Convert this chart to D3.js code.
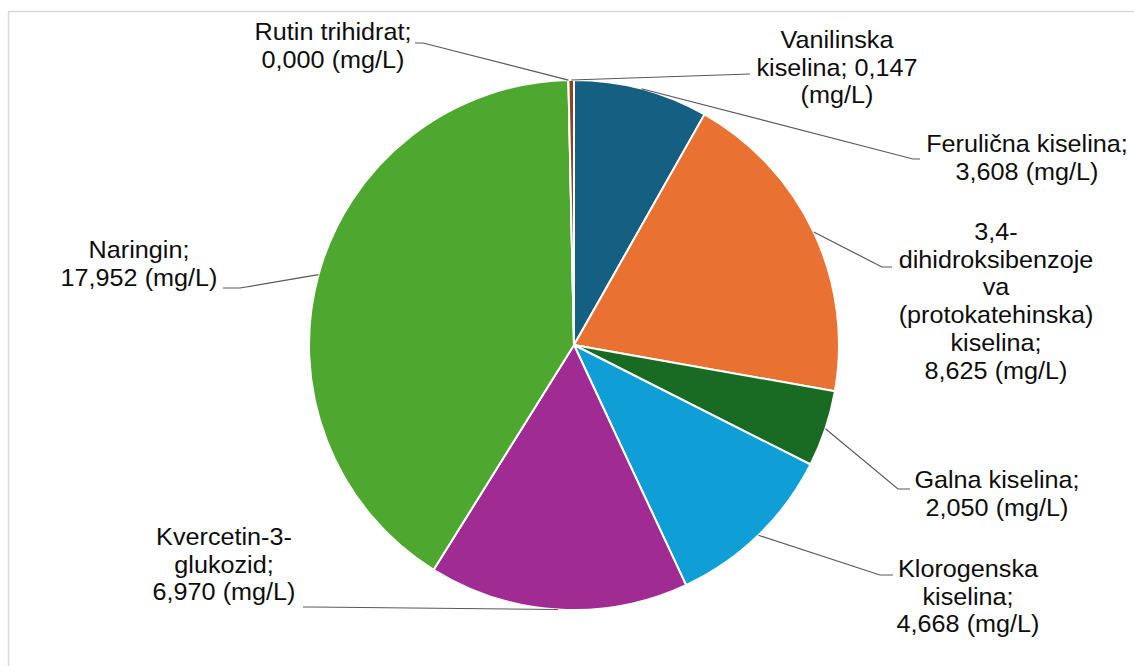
<!DOCTYPE html>
<html><head><meta charset="utf-8">
<script src="https://cdn.jsdelivr.net/npm/d3@7"></script>
<style>html,body{margin:0;padding:0;background:#fff;}svg{display:block;}</style>
</head><body>
<script>
// ---- data ----
const categories = ["Ferulična kiselina","3,4-dihidroksibenzojeva (protokatehinska) kiselina","Galna kiselina","Klorogenska kiselina","Kvercetin-3-glukozid","Naringin","Rutin trihidrat","Vanilinska kiselina"];
const values = [3.608, 8.625, 2.050, 4.668, 6.970, 17.952, 0.000, 0.147];
const valueLabels = ["3,608","8,625","2,050","4,668","6,970","17,952","0,000","0,147"];
const labelLines = [
  ["Ferulična kiselina;","3,608 (mg/L)"],
  ["3,4-","dihidroksibenzoje","va","(protokatehinska)","kiselina;","8,625 (mg/L)"],
  ["Galna kiselina;","2,050 (mg/L)"],
  ["Klorogenska","kiselina;","4,668 (mg/L)"],
  ["Kvercetin-3-","glukozid;","6,970 (mg/L)"],
  ["Naringin;","17,952 (mg/L)"],
  ["Rutin trihidrat;","0,000 (mg/L)"],
  ["Vanilinska","kiselina; 0,147","(mg/L)"]
];
const colors = ["#156082","#E97132","#196B24","#0F9ED5","#A02B93","#4EA72E","#0D3A4E","#8C441E"];

// ---- layout (label placement) ----
const labelLayout = [
  {cx:1027, y0:152, elbow:[913,159], end:[920,159]},
  {cx:996,  y0:240, elbow:[882,267], end:[892,267]},
  {cx:997,  y0:488, elbow:[898,489], end:[910,489]},
  {cx:968,  y0:577, elbow:[880,575], end:[893,575]},
  {cx:224,  y0:545, elbow:[312,607], end:[303,607]},
  {cx:139,  y0:258, elbow:[240,288], end:[223,288]},
  {cx:333,  y0:40,  elbow:[423,43],  end:[415,43]},
  {cx:837,  y0:48,  elbow:[750,74],  end:[750,74]}
];

const W = 1134, H = 666;
const cx = 574, cy = 345, R = 265;
const lh = 27.7;

const svg = d3.select("body").append("svg").attr("width", W).attr("height", H);
svg.append("rect").attr("x", 8.5).attr("y", 11.5).attr("width", 1200).attr("height", 800)
  .attr("fill", "#fff").attr("stroke", "#d9d9d9").attr("stroke-width", 1.5);

const pie = d3.pie().sort(null).value(d => d)(values);
const arc = d3.arc().innerRadius(0).outerRadius(R);
const g = svg.append("g").attr("transform", `translate(${cx},${cy})`);

g.selectAll("path").data(pie).join("path")
  .attr("d", arc)
  .attr("fill", (d, i) => colors[i])
  .attr("stroke", "#fff").attr("stroke-width", 2).attr("stroke-linejoin", "round");

// leader lines
const line = d3.line();
pie.forEach((d, i) => {
  const a = (d.startAngle + d.endAngle) / 2;
  const sx = cx + R * Math.sin(a), sy = cy - R * Math.cos(a);
  const L = labelLayout[i];
  svg.append("path")
    .attr("d", line([[sx, sy], L.elbow, L.end]))
    .attr("fill", "none").attr("stroke", "#595959").attr("stroke-width", 1.2);
});

// labels
labelLines.forEach((lines, i) => {
  const L = labelLayout[i];
  lines.forEach((t, k) => {
    svg.append("text")
      .attr("transform", `translate(${L.cx},${L.y0 + k * lh}) scale(1.05,1)`)
      .attr("text-anchor", "middle")
      .attr("font-family", "'Liberation Sans', Arial, sans-serif")
      .attr("font-size", 24)
      .attr("fill", "#0d0d0d")
      .text(t);
  });
});
</script>
</body></html>
